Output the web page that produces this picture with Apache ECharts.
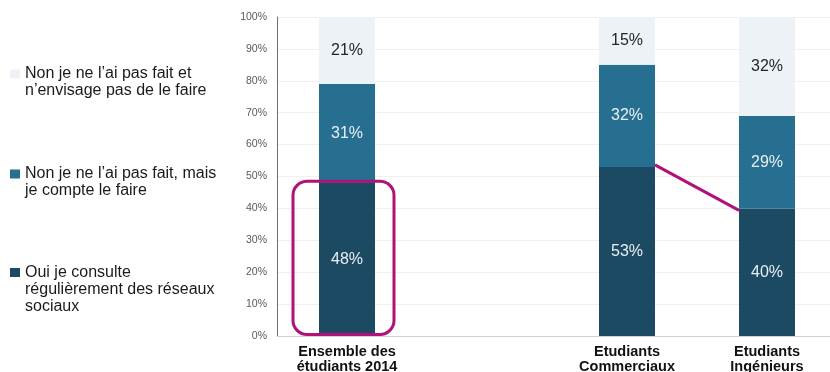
<!DOCTYPE html>
<html>
<head>
<meta charset="utf-8">
<script src="https://cdn.jsdelivr.net/npm/echarts@6/dist/echarts.min.js"></script>
<style>html,body{margin:0;padding:0;background:#fff}#c{width:830px;height:372px}</style>
</head>
<body>
<div id="c"></div>
<script>
var categories = ['Ensemble des\nétudiants 2014', '', 'Etudiants\nCommerciaux', 'Etudiants\nIngénieurs'];
var seriesNames = ['Oui je consulte régulièrement des réseaux sociaux', 'Non je ne l\u2019ai pas fait, mais je compte le faire', 'Non je ne l\u2019ai pas fait et n\u2019envisage pas de le faire'];
var legendTexts = ['Oui je consulte\nrégulièrement des réseaux\nsociaux', 'Non je ne l\u2019ai pas fait, mais\nje compte le faire', 'Non je ne l\u2019ai pas fait et\nn\u2019envisage pas de le faire'];
var ouiValues = [48, '-', 53, 40];
var compteValues = [31, '-', 32, 29];
var nonValues = [21, '-', 15, 32];
var yTicks = [0, 10, 20, 30, 40, 50, 60, 70, 80, 90, 100];

var colors = ['#1b4a62', '#276f91', '#edf2f7'];
var labelColors = ['#e8eff4', '#e8eff4', '#262626'];
var FONT = '"Liberation Sans", Arial, sans-serif';

var chart = echarts.init(document.getElementById('c'));

function mkLegend(idx, top, lines) {
  var h = lines * 17;
  // square on the first text line, invisible zero-area points stretch the icon box to the text height
  var path = 'path://M0,4L10,4L10,13L0,13Z M0,0L0.001,0L0,0Z M0,' + h + 'L0.001,' + h + 'L0,' + h + 'Z';
  return {
    data: [seriesNames[idx]],
    left: 10, top: top, padding: 0,
    itemWidth: 10, itemHeight: h, itemGap: 0,
    icon: path,
    symbolKeepAspect: false,
    formatter: function () { return legendTexts[idx]; },
    textStyle: { fontFamily: FONT, fontSize: 16, color: '#1a1a1a', lineHeight: 17 },
    selectedMode: false
  };
}

var data = [ouiValues, compteValues, nonValues];
var series = data.map(function (vals, i) {
  return {
    name: seriesNames[i], type: 'bar', stack: 'total', barWidth: 56,
    itemStyle: { color: colors[i] },
    label: { show: true, position: 'inside', formatter: '{c}%', fontFamily: FONT, fontSize: 16, color: labelColors[i] },
    data: vals
  };
});

chart.setOption({
  animation: false,
  textStyle: { fontFamily: FONT },
  legend: [mkLegend(2, 65.5, 2), mkLegend(1, 165.5, 2), mkLegend(0, 264, 3)],
  grid: { left: 277, width: 560, top: 17, bottom: 36, containLabel: false, outerBoundsMode: 'none' },
  xAxis: {
    type: 'category', data: categories,
    axisTick: { show: false },
    axisLine: { lineStyle: { color: '#d0d0d0', width: 1 } },
    axisLabel: { fontFamily: FONT, fontSize: 14.5, fontWeight: 'bold', color: '#111', lineHeight: 15, margin: 8, interval: 0 }
  },
  yAxis: {
    type: 'value', min: yTicks[0], max: yTicks[yTicks.length - 1], interval: 10,
    axisLine: { show: true, lineStyle: { color: '#6e6e6e', width: 1 } },
    axisTick: { show: false },
    splitLine: { lineStyle: { color: '#f0f0f0' } },
    axisLabel: { formatter: '{value}%', fontFamily: FONT, fontSize: 10.5, color: '#595959', margin: 10 }
  },
  series: series
});

// annotations computed from the chart's own scales
var p0 = chart.convertToPixel({ gridIndex: 0 }, [0, ouiValues[0] + 0.5]);
var pBase = chart.convertToPixel({ gridIndex: 0 }, [0, 0]);
var pA = chart.convertToPixel({ gridIndex: 0 }, [2, ouiValues[2]]);
var pB = chart.convertToPixel({ gridIndex: 0 }, [3, ouiValues[3]]);
var half = 28;
chart.setOption({
  graphic: [
    { type: 'rect', shape: { x: p0[0] - 54, y: p0[1], width: 101, height: pBase[1] - p0[1] - 1.5, r: 14 },
      style: { fill: 'none', stroke: '#b0127a', lineWidth: 3 }, z: 100 },
    { type: 'line', shape: { x1: pA[0] + half, y1: pA[1] - 2, x2: pB[0] - half, y2: pB[1] + 2 },
      style: { stroke: '#b0127a', lineWidth: 3 }, z: 100 }
  ]
});
</script>
</body>
</html>
